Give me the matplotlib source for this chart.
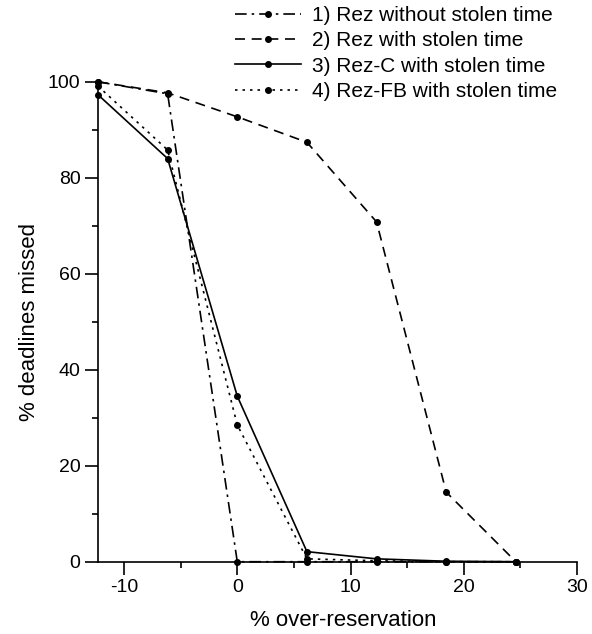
from matplotlib import pyplot as plt
from matplotlib.ticker import MultipleLocator

plt.rcParams['font.family'] = ['Liberation Sans', 'DejaVu Sans']
plt.rcParams['axes.unicode_minus'] = False

x = [-12.3, -6.15, 0, 6.15, 12.3, 18.45, 24.6]
rez_no_steal = [100, 97.5, 0, 0, 0, 0, 0]
rez_steal = [100, 97.7, 92.7, 87.4, 70.8, 14.5, 0]
rezc_steal = [97.3, 84.0, 34.5, 2.1, 0.6, 0.1, 0]
rezfb_steal = [99.1, 85.8, 28.5, 0.6, 0.2, 0, 0]
labels = ["1) Rez without stolen time", "2) Rez with stolen time",
          "3) Rez-C with stolen time", "4) Rez-FB with stolen time"]

fig = plt.figure(figsize=(5.92, 6.34), dpi=100)
ax = fig.add_axes([0.1655, 0.114, 0.8092, 0.757])

kw = dict(color='black', lw=1.2, marker='o', ms=4, clip_on=False)
l1, = ax.plot(x, rez_no_steal, dashes=(7, 3, 1.5, 3), **kw)
l2, = ax.plot(x, rez_steal, dashes=(6, 4), **kw)
l3, = ax.plot(x, rezc_steal, ls='-', **kw)
l4, = ax.plot(x, rezfb_steal, dashes=(1.5, 3), **kw)

ax.set_xlim(-12.3, 30)
ax.set_ylim(0, 100)
ax.spines['top'].set_visible(False)
ax.spines['right'].set_visible(False)
for s in ['left', 'bottom']:
    ax.spines[s].set_linewidth(1.2)
ax.xaxis.set_major_locator(MultipleLocator(10))
ax.xaxis.set_minor_locator(MultipleLocator(5))
ax.yaxis.set_major_locator(MultipleLocator(20))
ax.yaxis.set_minor_locator(MultipleLocator(10))
ax.tick_params(which='major', length=9.5, width=1.2, labelsize=14, pad=3)
ax.tick_params(which='minor', length=4.5, width=1.2)

ax.set_xlabel("% over-reservation", fontsize=16)
ax.xaxis.set_label_coords(0.512, -0.10)
ax.set_ylabel("% deadlines missed", fontsize=16, labelpad=6)

fig.legend([l1, l2, l3, l4], labels, loc='upper left', bbox_to_anchor=(0.365, 1.02),
           frameon=False, fontsize=15, handlelength=3.2, handletextpad=0.5,
           labelspacing=0.3, numpoints=1)

fig.savefig("out.png", dpi=100)
